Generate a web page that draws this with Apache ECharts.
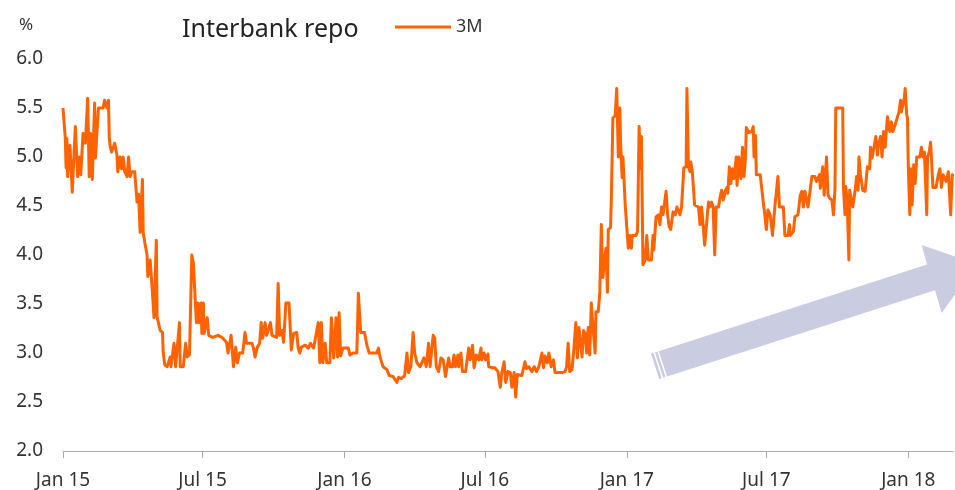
<!DOCTYPE html>
<html>
<head>
<meta charset="utf-8">
<script src="https://cdn.jsdelivr.net/npm/echarts@6/dist/echarts.min.js"></script>
<style>
html,body{margin:0;padding:0;background:#fff;}
#chart{width:955px;height:490px;}
</style>
</head>
<body>
<div id="chart"></div>
<script>
// Day offsets counted from 2015-01-01 (observation dates)
var startDate = '2015-01-01';
var endDate = '2018-02-28';
var days = [
  0,3,4,5,6,9,12,16,19,21, 23,26,29,32,34,36,38,41,42,44,
  46,52,54,57,59,60,61,63,67,70, 71,74,76,78,80,83,85,87,89,93,
  96,98,100,103,104,106,109,110,113,116, 118,121,122,126,129,130,132,135,139,140,
  144,146,151,152,156,159,161,164,167,169, 171,173,175,176,179,180,182,183,187,189,
  194,201,206,208,212,214,218,221,
  222,224,226,229,233,236,238,245,247,249, 252,255,257,259,262,264,266,269,271,277,
  279,281,284,286,288,289,293,295,296,299, 303,305,307,309,314,318,321,325,331,333,
  335,337,340,342,346,348,351,354,356,358, 360,363,370,372,376,381,383,386,391,394,
  397,407,409,411,415,420,423,428,433,435, 439,443,446,448,451,454,456,459,463,
  465,468,471,474,476,480,482,484,487,490, 493,496,500,502,505,507,509,512,513,516,
  518,522,526,528,531,533,536,539,542,543, 546,548,551,552,557,560,564,567,569,572,
  574,577,580,582,585,587,589,595,599,601, 604,608,611,614,617,621,623,625,628,630,
  633,636,638,647,651,653,655,657,660,662, 665,667,669,673,675,677,679,681,683,685,
  687,690,691,694,696,
  698,700,704,706,707,710,711,713,716,718, 719,720,722,723,725,726,729,731,733,735,
  737,738,743,745,747,749,750,752,755,757, 759,763,765,766,769,772,774,776,778,782,
  784,786,788,791,794,796,800,802,805,808, 809,811,813,814,816,818,819,824,826,828,
  830,832,834,837,839,841,843,845,847,850, 852,854,856,859,861,862,864,866,868,870,
  873,874,876,879,881,883,885,886,889,893, 895,896,898,899,904,906,908,910,912,914,
  917,920,923,925,927,929,934,936,940,942, 943,947,949,953,956,958,960,962,964,966,
  968,971,975,977,981,982,985,987,989,990, 992,994,997,999,1001,1002,1011,1012,1014,1015,
  1017,1019,1020,1022,1024,1027,1029,1031,1032,1034, 1037,1040,1042,1043,1046,1047,1049,1051,1054,1056,
  1057,1060,1062,1064,1066,1069,1072,1074,1076,1079, 1082,1084,1086,1087,1089,1091,1092,1094,1095,1096,
  1098,1099,1101,1103,1105,1107,1111,1113,1115,1117, 1120,1121,1123,1125,1127,1128,1132,1135,1137,1139,
  1141,1145,1148,1150,1151,1153,1154
];
var repo3M = [
  5.50,5.19,4.89,5.19,4.80,5.12,4.64,5.31,4.80,5.00, 4.82,5.24,5.14,5.60,4.80,5.24,4.77,5.55,4.99,4.99,
  5.50,5.50,5.58,5.50,5.58,5.20,5.12,5.05,5.14,5.02, 4.85,5.00,4.88,5.00,4.85,4.80,5.00,4.80,4.85,4.85,
  4.54,4.62,4.23,4.77,4.23,4.13,4.00,3.78,3.95,3.61, 3.36,4.15,3.37,3.23,3.21,3.00,2.88,2.86,2.96,2.86,
  3.10,2.86,3.31,2.86,2.86,3.10,2.96,2.98,4.00,3.92, 3.90,3.31,3.51,3.31,3.51,3.20,3.51,3.20,3.36,3.18,
  3.16,3.18,3.16,3.18,3.11,3.00,3.18,2.86,
  2.86,3.06,2.90,3.00,3.00,3.21,3.10,3.10,3.05,2.96, 3.06,3.10,3.31,3.15,3.31,3.18,3.16,3.31,3.18,3.16,
  3.71,3.18,3.23,3.11,3.10,3.51,3.51,3.20,3.03,3.20, 3.21,3.05,3.00,3.06,3.08,3.05,3.10,3.05,3.31,2.90,
  3.31,2.90,3.10,2.90,2.90,3.36,2.95,3.36,2.96,3.41, 2.97,3.05,3.05,2.98,3.00,3.00,3.61,3.21,3.21,3.08,
  3.00,3.00,3.05,2.96,2.86,2.83,2.77,2.76,2.70,2.75, 2.74,2.77,3.00,2.80,2.86,3.21,3.00,2.90,2.86,
  2.85,2.95,2.86,3.10,2.86,3.18,3.15,2.86,2.81,2.95, 2.93,2.76,2.95,2.86,2.86,2.98,2.86,2.98,2.86,3.00,
  2.81,2.81,3.05,2.93,3.08,2.85,2.98,2.93,3.05,2.93, 3.00,2.93,2.99,2.86,2.85,2.85,2.81,2.65,2.80,2.91,
  2.70,2.81,2.80,2.65,2.80,2.55,2.78,2.77,2.91,2.84, 2.86,2.81,2.86,2.81,2.86,3.00,2.85,2.97,2.90,3.00,
  2.86,2.93,2.80,2.80,2.81,2.86,3.10,2.81,2.83,3.00, 3.31,2.95,3.26,2.96,3.23,3.20,3.00,3.26,2.98,3.51,
  3.28,3.00,3.42,3.42,3.61,
  4.31,3.77,4.07,3.62,4.26,4.28,4.58,5.40,5.42,5.70, 5.36,5.00,5.50,5.15,4.79,5.00,4.51,4.50,4.07,4.20,
  4.07,4.20,4.20,4.24,5.31,4.88,5.21,3.90,3.95,4.20, 3.95,3.95,4.20,4.05,4.39,4.41,4.31,4.49,4.41,4.65,
  4.41,4.29,4.26,4.44,4.41,4.49,4.41,4.49,4.89,4.90, 5.70,4.90,4.85,4.95,4.85,4.85,4.51,4.49,4.31,4.49,
  4.31,4.10,4.10,4.54,4.49,4.54,4.49,4.00,4.49,4.49, 4.59,4.66,4.56,4.66,4.69,4.63,4.90,4.73,4.88,4.78,
  5.00,4.71,5.00,4.78,5.10,4.80,5.00,5.30,5.25,5.26, 5.31,5.00,5.22,4.82,4.82,4.80,4.54,4.41,4.26,4.46,
  4.41,4.20,4.49,4.49,4.80,4.49,4.49,4.20,4.20,4.31, 4.20,4.24,4.39,4.41,4.61,4.65,4.49,4.65,4.65,4.49,
  4.49,4.80,4.80,4.75,4.82,4.68,4.90,4.61,4.59,5.00, 4.61,4.58,4.56,4.41,4.68,5.50,5.50,4.68,4.41,4.70,
  4.51,3.95,4.66,4.65,4.49,4.65,4.80,4.66,5.00,4.82, 4.66,4.65,4.82,4.90,4.88,5.10,4.99,5.00,5.21,5.02,
  5.10,5.21,5.00,5.26,5.10,5.41,5.26,5.36,5.26,5.33, 5.41,5.46,5.58,5.46,5.53,5.61,5.70,5.43,5.40,4.92,
  4.41,4.88,4.51,4.92,4.73,5.00,5.00,5.10,5.00,5.05, 4.41,5.00,5.05,5.15,5.15,4.69,4.69,4.82,4.88,4.69,
  4.82,4.75,4.85,4.85,4.41,4.82,4.80
];
var tickDates = ['2015-01-01','2015-07-01','2016-01-01','2016-07-01','2017-01-01','2017-07-01','2018-01-01'];
var tickLabels = ['Jan 15','Jul 15','Jan 16','Jul 16','Jan 17','Jul 17','Jan 18'];
var seriesName = '3M';
var chartTitle = 'Interbank repo';
var unitLabel = '%';

function ts(s){ var p = s.split('-'); return Date.UTC(+p[0], +p[1]-1, +p[2]); }
var t0 = ts(startDate);
var n = Math.min(days.length, repo3M.length);
var lineData = [];
for (var i = 0; i < n; i++) lineData.push([t0 + days[i]*86400000, repo3M[i]]);
var tickTs = tickDates.map(ts);
var labelMap = {};
tickTs.forEach(function(t, i){ labelMap[t] = tickLabels[i]; });

var FONT = 'Noto Sans';
var chart = echarts.init(document.getElementById('chart'), null, {renderer:'canvas'});
chart.setOption({
  animation: false,
  backgroundColor: '#ffffff',
  textStyle: { fontFamily: FONT },
  title: [
    { text: chartTitle, left: 177, top: 12, textStyle: { fontSize: 25, fontWeight: 'normal', color: '#222', fontFamily: FONT } },
    { text: unitLabel, left: 14, top: 12, textStyle: { fontSize: 17, fontWeight: 'normal', color: '#333', fontFamily: FONT } }
  ],
  legend: {
    left: 390, top: 13,
    itemWidth: 56, itemHeight: 3, itemGap: 4,
    icon: 'rect',
    textStyle: { fontSize: 18, color: '#333', fontFamily: FONT, padding: [0,0,6,0] },
    data: [seriesName]
  },
  grid: { left: 63, right: 2, top: 59, bottom: 39, containLabel: false },
  xAxis: {
    type: 'value',
    min: t0,
    max: ts(endDate),
    axisLine: { show: true, lineStyle: { color: '#aaaaaa', width: 1 } },
    axisTick: { show: true, length: 7, lineStyle: { color: '#aaaaaa' }, customValues: tickTs },
    axisLabel: {
      customValues: tickTs,
      formatter: function(v){ return labelMap[v] || ''; },
      fontSize: 19, color: '#333', margin: 20, fontFamily: FONT
    },
    splitLine: { show: false }
  },
  yAxis: {
    type: 'value',
    min: 2, max: 6, interval: 0.5,
    axisLine: { show: false },
    axisTick: { show: false },
    splitLine: { show: false },
    axisLabel: { formatter: function(v){ return v.toFixed(1); }, fontSize: 19, color: '#333', margin: 20, fontFamily: FONT }
  },
  graphic: [
    {
      type: 'group', z: 1, silent: true,
      children: [
        { type: 'polygon', shape: { points: [[651,353.8],[927,264.5],[921.7,245],[977,264],[941.7,313],[935,290.3],[659.2,379.1]] },
          style: { fill: '#cacde2' } },
        { type: 'line', shape: { x1: 654.3, y1: 352.7, x2: 662.5, y2: 378.0 }, style: { stroke: '#ffffff', lineWidth: 1.5 } },
        { type: 'line', shape: { x1: 658.1, y1: 351.5, x2: 666.3, y2: 376.8 }, style: { stroke: '#ffffff', lineWidth: 1.5 } }
      ]
    }
  ],
  series: [{
    name: seriesName,
    type: 'line',
    data: lineData,
    showSymbol: false,
    symbol: 'none',
    z: 5,
    lineStyle: { color: '#ff6200', width: 3, join: 'round' },
    itemStyle: { color: '#ff6200' }
  }]
});
</script>
</body>
</html>
